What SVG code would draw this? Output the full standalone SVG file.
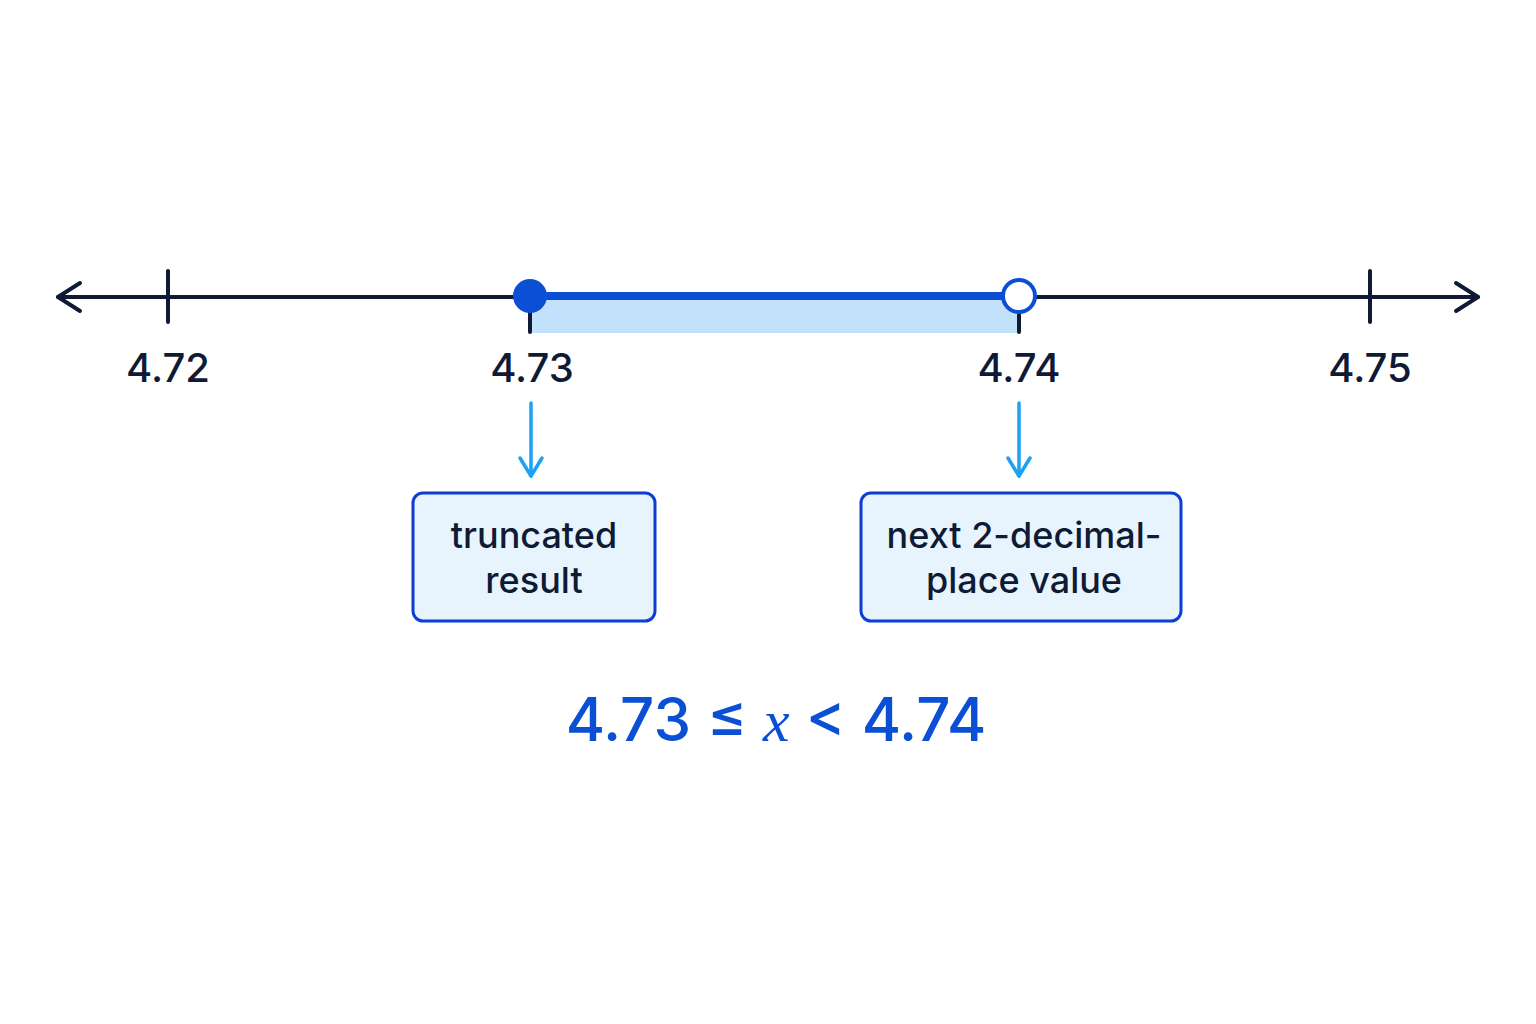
<svg xmlns="http://www.w3.org/2000/svg" width="1536" height="1024" viewBox="0 0 1536 1024">
<style>
.axis{stroke:#0f1b35;stroke-width:4;fill:none;stroke-linecap:round;stroke-linejoin:round}
.lbl{font-family:Inter,Roboto,"Liberation Sans",sans-serif;font-size:40px;font-weight:500;fill:#0f1b35;text-anchor:middle}
.box{fill:#e8f4fd;stroke:#0b3fd4;stroke-width:3}
.bt{font-family:Inter,Roboto,"Liberation Sans",sans-serif;font-size:36px;font-weight:500;fill:#0f1b35;text-anchor:middle}
.arr{stroke:#1da1f5;stroke-width:3.5;fill:none;stroke-linecap:round;stroke-linejoin:round}
</style>
<rect width="1536" height="1024" fill="#ffffff"/>
<g id="axis">
<line class="axis" x1="58" y1="297" x2="1478" y2="297"/>
<polyline class="axis" points="80,283 58,297 80,311"/>
<polyline class="axis" points="1456,283 1478,297 1456,311"/>
<line class="axis" x1="168" y1="271" x2="168" y2="322"/>
<line class="axis" x1="1370" y1="271" x2="1370" y2="322"/>
<line class="axis" x1="530" y1="297" x2="530" y2="332"/>
<line class="axis" x1="1019" y1="297" x2="1019" y2="332"/>
<text class="lbl" x="168" y="382">4.72</text>
<text class="lbl" x="532" y="382">4.73</text>
<text class="lbl" x="1019" y="382">4.74</text>
<text class="lbl" x="1370" y="382">4.75</text>
</g>
<g id="interval">
<rect x="532" y="300" width="485" height="33" fill="#c2e1fb"/>
<line x1="530" y1="296" x2="1019" y2="296" stroke="#0b4fd4" stroke-width="8"/>
<circle cx="530" cy="296" r="17" fill="#0b4fd4"/>
<circle cx="1019" cy="296" r="16" fill="#ffffff" stroke="#0b4fd4" stroke-width="4"/>
</g>
<g id="connectors">
<line class="arr" x1="531" y1="403" x2="531" y2="476"/>
<polyline class="arr" points="520,458 531,476 542,458"/>
<line class="arr" x1="1019" y1="403" x2="1019" y2="476"/>
<polyline class="arr" points="1008,458 1019,476 1030,458"/>
</g>
<g id="truncated">
<rect class="box" x="413" y="493" width="242" height="128" rx="10"/>
<text class="bt" x="534" y="548">truncated</text>
<text class="bt" x="534" y="593">result</text>
</g>
<g id="next">
<rect class="box" x="861" y="493" width="320" height="128" rx="10"/>
<text class="bt" x="1024" y="548">next 2-decimal-</text>
<text class="bt" x="1024" y="593">place value</text>
</g>
<g id="inequality">
<text x="776" y="741" font-family="Inter,Roboto,'Liberation Sans',sans-serif" font-size="60" font-weight="500" fill="#0b4fd4" text-anchor="middle">4.73 ≤ <tspan font-family="'Liberation Serif',serif" font-style="italic">x</tspan> &lt; 4.74</text>
</g>
</svg>
